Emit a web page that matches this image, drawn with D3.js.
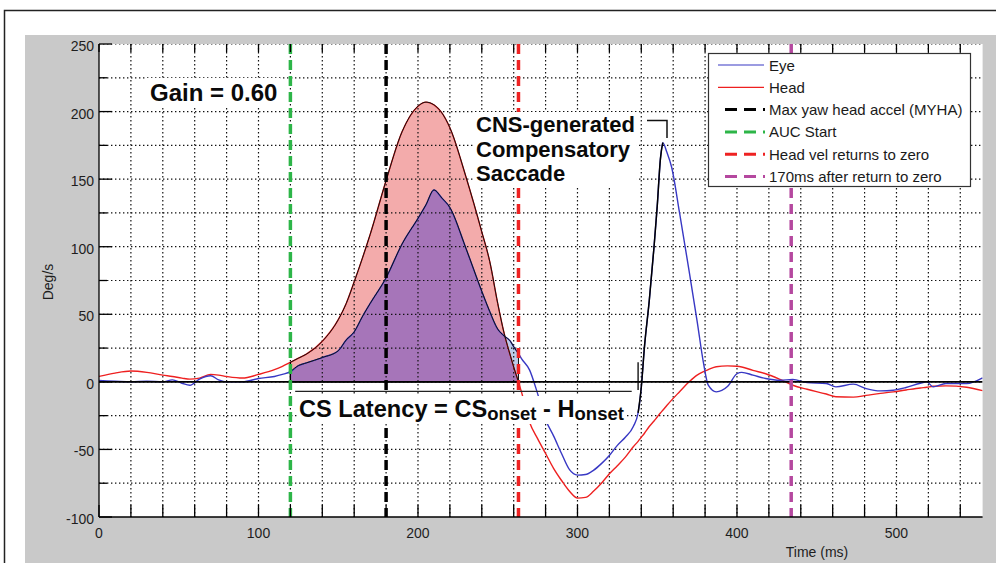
<!DOCTYPE html>
<html>
<head>
<meta charset="utf-8">
<script src="https://cdn.jsdelivr.net/npm/d3@7"></script>
<style>
  body { margin: 0; background: #fff; }
  svg { display: block; font-family: Arial, 'Liberation Sans', sans-serif; }
</style>
</head>
<body>
<svg id="chart"></svg>
<script>
// time (ms) shared by both traces
const timeMs = [0, 10, 20, 30, 40, 46, 52, 57, 63, 70, 75, 80, 90, 100, 110, 115,
  120, 125, 130, 140, 150, 155, 160, 165, 170, 180, 190, 200, 205, 210, 215, 220,
  230, 240, 245, 250, 254, 258, 260, 263, 265, 270, 275, 280, 285, 290, 295, 300,
  305, 310, 315, 320, 325, 330, 335, 338, 340, 342, 345, 348, 350, 352, 353.5, 356,
  359, 364, 370, 375, 379, 382, 387, 394, 400, 403, 410, 418, 427, 435, 444, 456,
  462, 473, 481, 490, 498, 506, 515, 519, 523, 531, 544, 554]
// eye velocity (deg/s)
const eyeVel = [1, 0.5, 0, 0.5, 0, 1.5, -1, -2.5, 2, 4.5, 1.5, 0, 0, 2.5, 4, 5.5,
  7.5, 12, 14, 18, 23, 31, 37, 48, 58, 77, 102, 121, 131, 142, 136, 129,
  99, 67, 52, 39, 34, 30, 26, 21, 17, 8.7, -8.7, -28, -40, -53, -65, -69,
  -68.6, -65.5, -60.5, -54.5, -47, -41, -33, -23, -4, 26, 60, 100, 130, 165, 177, 170,
  159, 125, 82, 45, 14, -2.5, -7.4, -3.5, 6, 7, 5, 2.5, 1.2, 1.7, -0.5, -1.2,
  -3.7, -1.7, -5, -6.7, -6.2, -4.2, -1, 0, -3.7, -1.2, -1.2, 3]
// head velocity (deg/s)
const headVel = [4, 6.5, 8, 7, 5, 4, 2.8, 2, 2.8, 5.5, 5, 4, 2.8, 5.5, 9, 11.5,
  14.5, 17.5, 20.5, 30, 46, 58, 74, 91, 109, 149, 185, 204, 207, 205, 199, 188,
  152, 111, 89, 58, 36, 19, 11, 0, -8, -30, -42, -53, -64, -73, -81, -86,
  -85.5, -81, -75, -68, -62, -55.7, -48, -44, -41, -38, -33, -29, -26, -23, -21, -17.5,
  -13.5, -7.3, 0, 5, 7.5, 9, 11.2, 11.8, 11.5, 11, 8.5, 6, 1.8, -2.5, -5.5, -9,
  -11, -11.3, -10, -8.5, -7.4, -6, -4.5, -4, -3.3, -3, -4, -6.5]

const xTicks = d3.range(0, 541, 20)
const xLabels = [0, 100, 200, 300, 400, 500]
const yTicks = d3.range(-100, 251, 25)
const yLabels = [-100, -50, 0, 50, 100, 150, 200, 250]

// vertical event markers
const eventNames = ['Max yaw head accel (MYHA)', 'AUC Start', 'Head vel returns to zero', '170ms after return to zero']
const eventTimes = [180, 120, 263, 434]
const eventColors = ['#000000', '#2db548', '#ee2222', '#b5489f']

const aucRange = [120, 263]
const onsetTimes = [120, 338]
const saccadeRange = [338, 353.5]
const latencyRange = [123, 334]
const latencyLevel = -7

const width = 996
const height = 563
const pLeft = 99, pRight = 982.6, pTop = 44, pBottom = 517

let svg = d3.select('#chart').attr('width', width).attr('height', height)

let x = d3.scaleLinear().domain([0, 554]).range([pLeft, pRight])
let y = d3.scaleLinear().domain([-100, 250]).range([pBottom, pTop])

// frame and grey figure background
svg.append('rect').attr('x', 4.5).attr('y', 10.5).attr('width', 1000).attr('height', 600)
  .attr('fill', '#fff').attr('stroke', '#222').attr('stroke-width', 1.5)
svg.append('rect').attr('x', 25).attr('y', 35).attr('width', 980).attr('height', 540).attr('fill', '#c9c9c9')
svg.append('rect').attr('x', pLeft).attr('y', pTop).attr('width', pRight - pLeft).attr('height', pBottom - pTop).attr('fill', '#fff')

svg.append('clipPath').attr('id', 'clip').append('rect')
  .attr('x', pLeft).attr('y', pTop).attr('width', pRight - pLeft).attr('height', pBottom - pTop)

let data = timeMs.map((t, i) => ({ t: t, eye: eyeVel[i], head: headVel[i] }))
let auc = data.filter(d => d.t >= aucRange[0] && d.t <= aucRange[1])

let plot = svg.append('g').attr('clip-path', 'url(#clip)')

// shaded areas: head (pink), eye (light blue), overlap (purple)
const area = key => d3.area().x(d => x(d.t)).y0(y(0)).y1(d => y(key(d))).curve(d3.curveMonotoneX)
plot.append('path').datum(auc).attr('d', area(d => d.head)).attr('fill', '#f3abab')
plot.append('path').datum(auc).attr('d', area(d => d.eye)).attr('fill', '#bccbe9')
plot.append('path').datum(auc).attr('d', area(d => Math.min(d.eye, d.head))).attr('fill', '#a675b9')

// dotted grid
plot.selectAll('.gx').data(xTicks.filter(t => t > 0)).enter().append('line')
  .attr('x1', d => x(d)).attr('x2', d => x(d)).attr('y1', pTop).attr('y2', pBottom)
  .attr('stroke', '#111').attr('stroke-width', 1.2).attr('stroke-dasharray', '1.4,2.6')
plot.selectAll('.gy').data(yTicks.filter(v => v > -100)).enter().append('line')
  .attr('x1', pLeft).attr('x2', pRight).attr('y1', d => y(d)).attr('y2', d => y(d))
  .attr('stroke', '#111').attr('stroke-width', 1.2).attr('stroke-dasharray', '1.4,2.6')

// traces
const line = key => d3.line().x(d => x(d.t)).y(d => y(d[key])).curve(d3.curveMonotoneX)
plot.append('path').datum(data).attr('d', line('head')).attr('fill', 'none').attr('stroke', '#ee2020').attr('stroke-width', 1.4)
plot.append('path').datum(data).attr('d', line('eye')).attr('fill', 'none').attr('stroke', '#3838c4').attr('stroke-width', 1.4)

// black outlines of the shaded areas
plot.append('path').datum(auc).attr('d', area(d => d.head)).attr('fill', 'none').attr('stroke', '#111').attr('stroke-width', 1)
plot.append('path').datum(auc).attr('d', area(d => d.eye)).attr('fill', 'none').attr('stroke', '#111').attr('stroke-width', 1)

// saccade rising edge in black
let sac = data.filter(d => d.t >= saccadeRange[0] && d.t <= saccadeRange[1])
plot.append('path').datum(sac).attr('d', line('eye')).attr('fill', 'none').attr('stroke', '#000').attr('stroke-width', 1.5)

// zero line
plot.append('line').attr('x1', pLeft).attr('x2', pRight).attr('y1', y(0)).attr('y2', y(0))
  .attr('stroke', '#000').attr('stroke-width', 1.6)

// onset markers
plot.selectAll('.onset').data(onsetTimes).enter().append('line')
  .attr('x1', d => x(d)).attr('x2', d => x(d)).attr('y1', y(14.5)).attr('y2', y(-6))
  .attr('stroke', '#000').attr('stroke-width', 1.3)

// event lines
plot.selectAll('.ev').data(eventTimes).enter().append('line')
  .attr('x1', d => x(d)).attr('x2', d => x(d)).attr('y1', pTop).attr('y2', pBottom)
  .attr('stroke', (d, i) => eventColors[i]).attr('stroke-width', 3.5).attr('stroke-dasharray', '10,6')

// axes: left and bottom solid, ticks
svg.append('line').attr('x1', pLeft).attr('x2', pLeft).attr('y1', pTop).attr('y2', pBottom).attr('stroke', '#000').attr('stroke-width', 1.3)
svg.append('line').attr('x1', pLeft).attr('x2', pRight).attr('y1', pBottom).attr('y2', pBottom).attr('stroke', '#000').attr('stroke-width', 1.3)
svg.selectAll('.tb').data(xTicks).enter().append('line')
  .attr('x1', d => x(d)).attr('x2', d => x(d)).attr('y1', pBottom).attr('y2', pBottom - 12)
  .attr('stroke', '#000').attr('stroke-width', 1.3)
svg.selectAll('.tt').data(xTicks).enter().append('line')
  .attr('x1', d => x(d)).attr('x2', d => x(d)).attr('y1', pTop).attr('y2', pTop + 8)
  .attr('stroke', '#000').attr('stroke-width', 1.3)
svg.selectAll('.ty').data(yTicks).enter().append('line')
  .attr('x1', pLeft).attr('x2', d => pLeft + (d % 50 === 0 ? 13 : 8)).attr('y1', d => y(d)).attr('y2', d => y(d))
  .attr('stroke', '#000').attr('stroke-width', 1.3)

svg.selectAll('.lx').data(xLabels).enter().append('text')
  .attr('x', d => x(d)).attr('y', 538).attr('text-anchor', 'middle')
  .attr('font-size', 14).attr('fill', '#1e1e1e').text(d => d)
svg.selectAll('.ly').data(yLabels).enter().append('text')
  .attr('x', 94).attr('y', d => y(d) + 7).attr('text-anchor', 'end')
  .attr('font-size', 14).attr('fill', '#1e1e1e').text(d => d)

svg.append('text').attr('x', 817).attr('y', 557).attr('text-anchor', 'middle')
  .attr('font-size', 14).attr('fill', '#1e1e1e').text('Time (ms)')
svg.append('text').attr('transform', 'translate(53, 282) rotate(-90)').attr('text-anchor', 'middle')
  .attr('font-size', 14).attr('fill', '#1e1e1e').text('Deg/s')

// annotations with white boxes behind them
function boxed (t, pad) {
  let b = t.node().getBBox()
  d3.select(t.node().parentNode).insert('rect', () => t.node())
    .attr('x', b.x - pad).attr('y', b.y - pad + 2).attr('width', b.width + 2 * pad).attr('height', b.height + 2 * pad - 4)
    .attr('fill', '#fff')
}

let notes = svg.append('g').attr('font-weight', 'bold').attr('fill', '#0a0a0a')

let gain = notes.append('text').attr('x', 150).attr('y', 101).attr('font-size', 24).text('Gain = 0.60')
boxed(gain, 3)

let cns = notes.append('text').attr('x', 476).attr('font-size', 22)
;['CNS-generated', 'Compensatory', 'Saccade'].forEach((s, i) => {
  cns.append('tspan').attr('x', 476).attr('y', 132 + i * 24.5).text(s)
})
boxed(cns, 2)
svg.append('path').attr('d', 'M647,120.5 H667 V138').attr('fill', 'none').attr('stroke', '#111').attr('stroke-width', 1.5)

let lat = notes.append('text').attr('x', 299).attr('y', 417).attr('font-size', 23.6)
lat.append('tspan').text('CS Latency = CS')
lat.append('tspan').attr('font-size', 18.5).attr('dy', 3).text('onset')
lat.append('tspan').attr('dy', -3).text(' - H')
lat.append('tspan').attr('font-size', 18.5).attr('dy', 3).text('onset')
boxed(lat, 2)

svg.append('line').attr('x1', x(latencyRange[0])).attr('x2', x(latencyRange[1]))
  .attr('y1', y(latencyLevel)).attr('y2', y(latencyLevel)).attr('stroke', '#222').attr('stroke-width', 1.3)

// legend
let leg = svg.append('g')
leg.append('rect').attr('x', 708.5).attr('y', 53.5).attr('width', 262).attr('height', 133)
  .attr('fill', '#fff').attr('stroke', '#333').attr('stroke-width', 1.2)
const legNames = ['Eye', 'Head'].concat(eventNames)
const legColors = ['#3838c4', '#ee2020'].concat(eventColors)
legNames.forEach((name, i) => {
  let ly = 65 + i * 22.3
  if (i < 2) {
    leg.append('line').attr('x1', 718).attr('x2', 764).attr('y1', ly).attr('y2', ly)
      .attr('stroke', legColors[i]).attr('stroke-width', 1.2)
  } else {
    leg.append('line').attr('x1', 725).attr('x2', 765).attr('y1', ly).attr('y2', ly)
      .attr('stroke', legColors[i]).attr('stroke-width', 3).attr('stroke-dasharray', '12,7')
  }
  leg.append('text').attr('x', 769).attr('y', ly + 5.5).attr('font-size', 15).attr('fill', '#1a1a1a').text(name)
})
</script>
</body>
</html>
